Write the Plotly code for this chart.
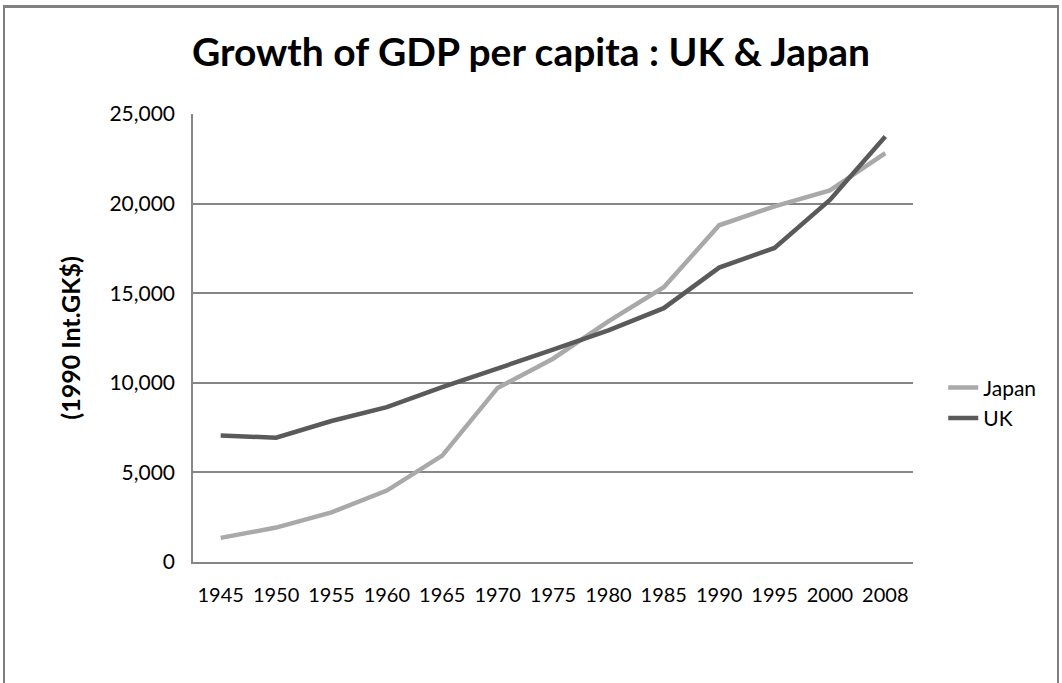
import plotly.graph_objects as go

years = ["1945", "1950", "1955", "1960", "1965", "1970", "1975", "1980", "1985", "1990", "1995", "2000", "2008"]
japan = [1346, 1921, 2771, 3986, 5934, 9714, 11344, 13428, 15331, 18789, 19849, 20738, 22816]
uk = [7056, 6939, 7868, 8645, 9752, 10767, 11847, 12931, 14165, 16430, 17527, 20200, 23742]

FONT = "Lato"
GRID = "#868686"

fig = go.Figure()
fig.add_trace(go.Scatter(x=years, y=japan, mode="lines", name="Japan",
                         line=dict(color="#a9a9a9", width=4.5)))
fig.add_trace(go.Scatter(x=years, y=uk, mode="lines", name="UK",
                         line=dict(color="#5a5a5a", width=4.5)))

fig.update_layout(
    width=1062, height=683,
    margin=dict(l=193, r=149, t=114, b=121),
    paper_bgcolor="white", plot_bgcolor="white",
    title=dict(text="<b>Growth of GDP per capita : UK & Japan</b>",
               x=0.5, xanchor="center", y=1 - 52 / 683, yanchor="middle",
               font=dict(family=FONT, size=39, color="black")),
    font=dict(family=FONT, color="black"),
    legend=dict(x=1.042, y=0.355, xanchor="left", yanchor="middle",
                font=dict(size=21, color="black"), tracegroupgap=0),
    showlegend=True,
)
fig.update_xaxes(type="category", showline=True, linecolor=GRID, linewidth=1.5,
                 ticks="", tickfont=dict(size=20), ticklabelstandoff=14,
                 showgrid=False, range=[-0.5, len(years) - 0.5])
fig.update_yaxes(range=[0, 25000], dtick=5000, tickformat=",", showgrid=True,
                 gridcolor=GRID, gridwidth=1.5, showline=True,
                 linecolor=GRID, linewidth=1.5, ticks="", zeroline=False,
                 tickfont=dict(size=21), ticklabelstandoff=12,
                 title=dict(text="<b>(1990 Int.GK$)</b>", font=dict(size=25), standoff=22))

# outer chart border (left, right, top)
fig.add_shape(type="rect", xref="paper", yref="paper",
              x0=(4 - 193) / 720, x1=(1058 - 193) / 720,
              y0=(562 - 700) / 448, y1=(562 - 6) / 448,
              line=dict(color="#808080", width=2), fillcolor="rgba(0,0,0,0)", layer="above")
fig.add_shape(type="line", xref="paper", yref="paper",
              x0=(4 - 193) / 720, x1=(1058 - 193) / 720,
              ysizemode="pixel", yanchor=1, y0=107, y1=107,
              line=dict(color="#808080", width=2), layer="above")

fig.write_html("out.html", config={"displayModeBar": False},
               post_script="document.body.style.margin='0';")
